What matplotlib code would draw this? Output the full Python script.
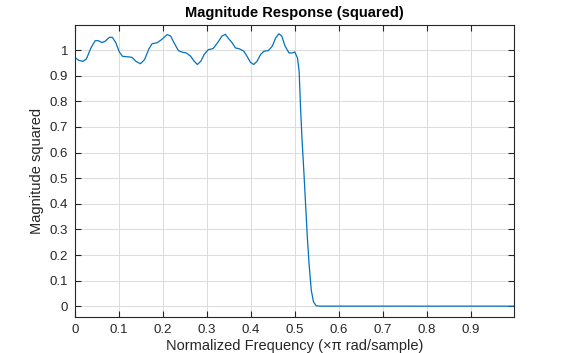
import matplotlib
matplotlib.use("Agg")
import matplotlib.pyplot as plt

# Frequenz (x pi rad/sample)
freq = [0.0, 0.0014, 0.009, 0.018, 0.026, 0.036, 0.0458, 0.053, 0.061, 0.068,
        0.078, 0.085, 0.093, 0.1007, 0.108, 0.120, 0.1295, 0.1387, 0.1487, 0.158,
        0.1677, 0.175, 0.1867, 0.1966, 0.2096, 0.2174, 0.225, 0.235, 0.244, 0.253,
        0.263, 0.2707, 0.278, 0.286, 0.2935, 0.303, 0.3137, 0.324, 0.334, 0.3416,
        0.349, 0.357, 0.3645, 0.3737, 0.3836, 0.391, 0.3986, 0.406, 0.414, 0.4217,
        0.4293, 0.4393, 0.4485, 0.456, 0.4636, 0.4698, 0.4774, 0.4865, 0.494, 0.4995,
        0.5057, 0.5094, 0.5125, 0.516, 0.520, 0.524, 0.528, 0.532, 0.537, 0.542,
        0.548, 0.555, 0.6, 0.7, 0.8, 0.9, 0.998]
mag2 = [0.967, 0.969, 0.960, 0.956, 0.966, 1.008, 1.037, 1.037, 1.030, 1.034,
        1.050, 1.050, 1.028, 0.993, 0.976, 0.974, 0.972, 0.956, 0.947, 0.963,
        1.004, 1.025, 1.029, 1.041, 1.061, 1.055, 1.029, 0.998, 0.992, 0.989,
        0.976, 0.957, 0.944, 0.957, 0.983, 1.002, 1.006, 1.029, 1.055, 1.062,
        1.045, 1.029, 1.009, 1.005, 0.996, 0.976, 0.953, 0.944, 0.957, 0.983,
        0.996, 0.998, 1.016, 1.048, 1.064, 1.055, 1.016, 0.989, 0.989, 0.993,
        0.969, 0.917, 0.78, 0.65, 0.53, 0.40, 0.27, 0.165, 0.0625, 0.017,
        0.002, 0.0005, 0.0004, 0.0004, 0.0003, 0.0004, 0.0003]

xticks = [0, 0.1, 0.2, 0.3, 0.4, 0.5, 0.6, 0.7, 0.8, 0.9]
yticks = [0, 0.1, 0.2, 0.3, 0.4, 0.5, 0.6, 0.7, 0.8, 0.9, 1]

plt.rcParams['font.family'] = ['Liberation Sans', 'DejaVu Sans']
fig = plt.figure(figsize=(5.77, 3.53), dpi=100)
ax = fig.add_axes([0.130, 0.102, 0.761, 0.827])

ax.plot(freq, mag2, color='#0072BD', linewidth=0.9)

ax.set_xlim(0, 0.998)
ax.set_ylim(-0.042, 1.098)
ax.set_xticks(xticks)
ax.set_xticklabels(["0", "0.1", "0.2", "0.3", "0.4", "0.5", "0.6", "0.7", "0.8", "0.9"])
ax.set_yticks(yticks)
ax.set_yticklabels(["0", "0.1", "0.2", "0.3", "0.4", "0.5", "0.6", "0.7", "0.8", "0.9", "1"])
ax.grid(True, color='#dcdcdc', linewidth=0.7)
ax.set_axisbelow(True)
ax.tick_params(direction='in', top=True, right=True, length=4, width=0.8,
               colors='#262626', labelsize=9.5, pad=5)
for s in ax.spines.values():
    s.set_color('#262626')
    s.set_linewidth(0.8)

ax.set_xlabel("Normalized Frequency (\u00d7\u03c0 rad/sample)", fontsize=10.5, color='#262626', labelpad=2)
ax.set_ylabel("Magnitude squared", fontsize=10.5, color='#262626', labelpad=4)
ax.set_title("Magnitude Response (squared)", fontsize=10.5, fontweight='bold', pad=6)

fig.savefig("out.png", dpi=100)
